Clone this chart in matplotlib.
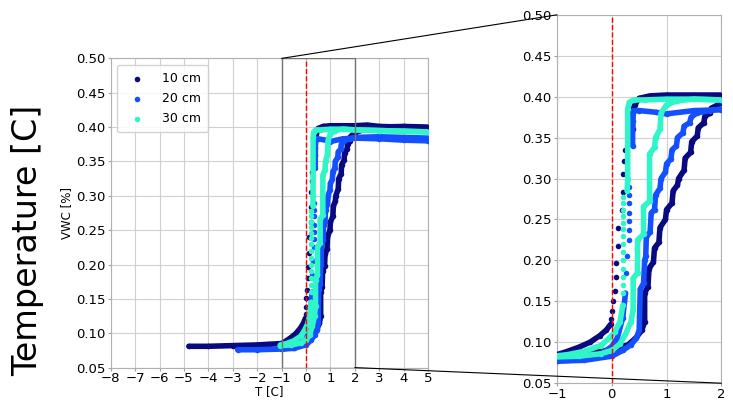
import matplotlib
matplotlib.use("Agg")
import matplotlib.pyplot as plt
from matplotlib.patches import Rectangle, ConnectionPatch

# ---------------------------------------------------------------------------
# Data: freezing branch, isolated drop points, thaw branch
# ---------------------------------------------------------------------------

DEPTHS = ["10 cm", "20 cm", "30 cm"]
COLORS = ["#0a0a80", "#1450ff", "#30f5c8"]

t10_freeze = [5.0, 4.0, 3.0, 2.5, 2.0, 1.5, 1.0, 0.7, 0.5, 0.42, 0.38, 0.38]
v10_freeze = [0.399, 0.400, 0.401, 0.403, 0.402, 0.402, 0.402, 0.401, 0.398, 0.390, 0.383, 0.360]
t10_drop = [0.24, 0.23, 0.21, 0.20, 0.19, 0.11, 0.11, 0.08, 0.08, 0.05, 0.02, 0.01, -0.01]
v10_drop = [0.335, 0.321, 0.305, 0.284, 0.262, 0.240, 0.217, 0.197, 0.180, 0.163, 0.151, 0.138, 0.128]
t10_cold = [-0.02, -0.1, -0.22, -0.4, -0.6, -0.85, -1.0, -1.5, -2.0, -3.0, -4.0, -4.8]
v10_cold = [0.122, 0.115, 0.108, 0.100, 0.094, 0.088, 0.085, 0.084, 0.083, 0.082, 0.081, 0.081]
t10_thaw = [-1.0, -0.5, 0.0, 0.3, 0.45, 0.55, 0.60, 0.60, 0.66, 0.68, 0.76, 0.78, 0.86, 0.88,
            0.98, 1.00, 1.10, 1.12, 1.20, 1.22, 1.32, 1.34, 1.44, 1.46, 1.56, 1.58, 1.68, 1.70,
            1.80, 1.82, 2.0, 2.5, 3.0, 4.0, 5.0]
v10_thaw = [0.082, 0.086, 0.091, 0.097, 0.106, 0.115, 0.125, 0.160, 0.168, 0.190, 0.198, 0.215,
            0.222, 0.240, 0.250, 0.262, 0.270, 0.285, 0.292, 0.300, 0.310, 0.325, 0.332, 0.345,
            0.352, 0.362, 0.368, 0.376, 0.380, 0.386, 0.392, 0.398, 0.400, 0.401, 0.400]

t20_freeze = [5.0, 4.0, 3.0, 2.0, 1.5, 1.0, 0.8, 0.5, 0.40, 0.38, 0.38]
v20_freeze = [0.380, 0.381, 0.383, 0.384, 0.383, 0.379, 0.381, 0.383, 0.383, 0.370, 0.340]
t20_drop = [0.31, 0.31, 0.31, 0.31, 0.31, 0.31, 0.31, 0.28, 0.26]
v20_drop = [0.290, 0.280, 0.270, 0.258, 0.248, 0.237, 0.225, 0.205, 0.185]
t20_cold = [0.25, 0.2, 0.1, 0.0, -0.2, -0.5, -1.0, -2.0, -2.8]
v20_cold = [0.160, 0.130, 0.105, 0.095, 0.085, 0.079, 0.077, 0.076, 0.076]
t20_thaw = [-1.0, -0.5, 0.0, 0.2, 0.35, 0.45, 0.50, 0.52, 0.58, 0.60, 0.62, 0.63, 0.70, 0.72,
            0.78, 0.80, 0.88, 0.90, 0.98, 1.00, 1.08, 1.10, 1.18, 1.20, 1.30, 1.32, 1.42, 1.45,
            1.55, 1.8, 2.0, 3.0, 4.0, 5.0]
v20_thaw = [0.077, 0.078, 0.083, 0.090, 0.097, 0.105, 0.115, 0.165, 0.172, 0.200, 0.205, 0.228,
            0.235, 0.258, 0.262, 0.280, 0.288, 0.300, 0.308, 0.318, 0.324, 0.335, 0.340, 0.350,
            0.356, 0.364, 0.368, 0.375, 0.380, 0.383, 0.385, 0.386, 0.385, 0.384]

t30_freeze = [5.0, 4.0, 3.0, 2.0, 1.5, 1.0, 0.6, 0.4, 0.32, 0.29, 0.29, 0.28]
v30_freeze = [0.393, 0.394, 0.395, 0.396, 0.397, 0.397, 0.396, 0.396, 0.393, 0.385, 0.300, 0.285]
t30_drop = [0.21, 0.21, 0.20, 0.20, 0.20, 0.20, 0.20, 0.20, 0.20, 0.20, 0.20, 0.20, 0.20, 0.20]
v30_drop = [0.278, 0.270, 0.262, 0.254, 0.246, 0.238, 0.230, 0.220, 0.210, 0.200, 0.190, 0.180,
            0.170, 0.160]
t30_cold = [0.20, 0.15, 0.05, -0.05, -0.2, -0.5, -0.8, -1.05]
v30_cold = [0.145, 0.125, 0.112, 0.105, 0.096, 0.089, 0.085, 0.083]
t30_thaw = [-1.05, -0.6, -0.2, 0.0, 0.15, 0.25, 0.35, 0.39, 0.39, 0.47, 0.47, 0.58, 0.58, 0.69,
            0.69, 0.78, 0.80, 0.88, 0.90, 1.0, 1.2, 1.5, 2.0, 3.0, 4.0, 5.0]
v30_thaw = [0.082, 0.083, 0.086, 0.090, 0.098, 0.110, 0.125, 0.140, 0.178, 0.185, 0.225, 0.232,
            0.266, 0.272, 0.330, 0.338, 0.350, 0.360, 0.380, 0.390, 0.395, 0.397, 0.396, 0.395,
            0.394, 0.393]

SERIES = [
    (t10_freeze, v10_freeze, t10_drop, v10_drop, t10_cold, v10_cold, t10_thaw, v10_thaw),
    (t20_freeze, v20_freeze, t20_drop, v20_drop, t20_cold, v20_cold, t20_thaw, v20_thaw),
    (t30_freeze, v30_freeze, t30_drop, v30_drop, t30_cold, v30_cold, t30_thaw, v30_thaw),
]

MAIN_XTICKS = list(range(-8, 6))
INSET_XTICKS = [-1, 0, 1, 2]
YTICKS = [0.05, 0.10, 0.15, 0.20, 0.25, 0.30, 0.35, 0.40, 0.45, 0.50]
ZOOM_X = (-1, 2)
ZOOM_Y = (0.05, 0.5)


def _draw(ax, label=True):
    for name, color, (tf, vf, td, vd, tc, vc, tt, vt) in zip(DEPTHS, COLORS, SERIES):
        for xs, ys in [(tf, vf), (tc, vc), (tt, vt)]:
            ax.plot(xs, ys, color=color, linewidth=4.0, solid_capstyle="round",
                    solid_joinstyle="round", zorder=3)
        ax.scatter(td, vd, color=color, s=16, linewidths=0, zorder=3)
        ax.scatter(tf + tc + tt, vf + vc + vt, color=color, s=16, linewidths=0, zorder=3,
                   label=name if label else None)
    ax.axvline(0, color="red", linestyle="--", linewidth=1.0, zorder=4)
    ax.set_yticks(YTICKS)
    ax.grid(True, color="#d0d0d0", linewidth=0.8)
    ax.set_axisbelow(True)
    for s in ax.spines.values():
        s.set_color("#b0b0b0")
        s.set_linewidth(0.8)
    ax.tick_params(labelsize=9.5, length=2, color="#a0a0a0", pad=2)
    ax.tick_params(axis="x", pad=1.5)


fig = plt.figure(figsize=(7.33, 4.0), dpi=100)
ax = fig.add_axes([0.151, 0.081, 0.433, 0.773])
axins = fig.add_axes([0.760, 0.042, 0.224, 0.921])

_draw(ax)
ax.set_xlim(-8, 5)
ax.set_ylim(0.05, 0.5)
ax.set_xticks(MAIN_XTICKS)
ax.set_xlabel("T [C]", fontsize=8.5, labelpad=0)
ax.set_ylabel("VWC [%]", fontsize=8.5, labelpad=2)
ax.legend(loc="upper left", fontsize=9, markerscale=1.0, handletextpad=1.0,
          borderpad=0.6, labelspacing=0.55, framealpha=0.85)

_draw(axins, label=False)
axins.set_xlim(*ZOOM_X)
axins.set_ylim(*ZOOM_Y)
axins.set_xticks(INSET_XTICKS)

# zoom box on the main axes and the two connector lines to the inset
ax.add_patch(Rectangle((ZOOM_X[0], ZOOM_Y[0]), ZOOM_X[1] - ZOOM_X[0], ZOOM_Y[1] - ZOOM_Y[0],
                       fill=False, edgecolor="0.45", linewidth=1.0, zorder=5))
for xy in [(ZOOM_X[0], ZOOM_Y[1]), (ZOOM_X[1], ZOOM_Y[0])]:
    con = ConnectionPatch(xyA=xy, coordsA=ax.transData, xyB=xy, coordsB=axins.transData,
                          color="black", linewidth=0.8)
    fig.add_artist(con)

fig.text(0.038, 0.40, "Temperature [C]", rotation=90, fontsize=24,
         ha="center", va="center")

fig.savefig("out.png", dpi=100)
